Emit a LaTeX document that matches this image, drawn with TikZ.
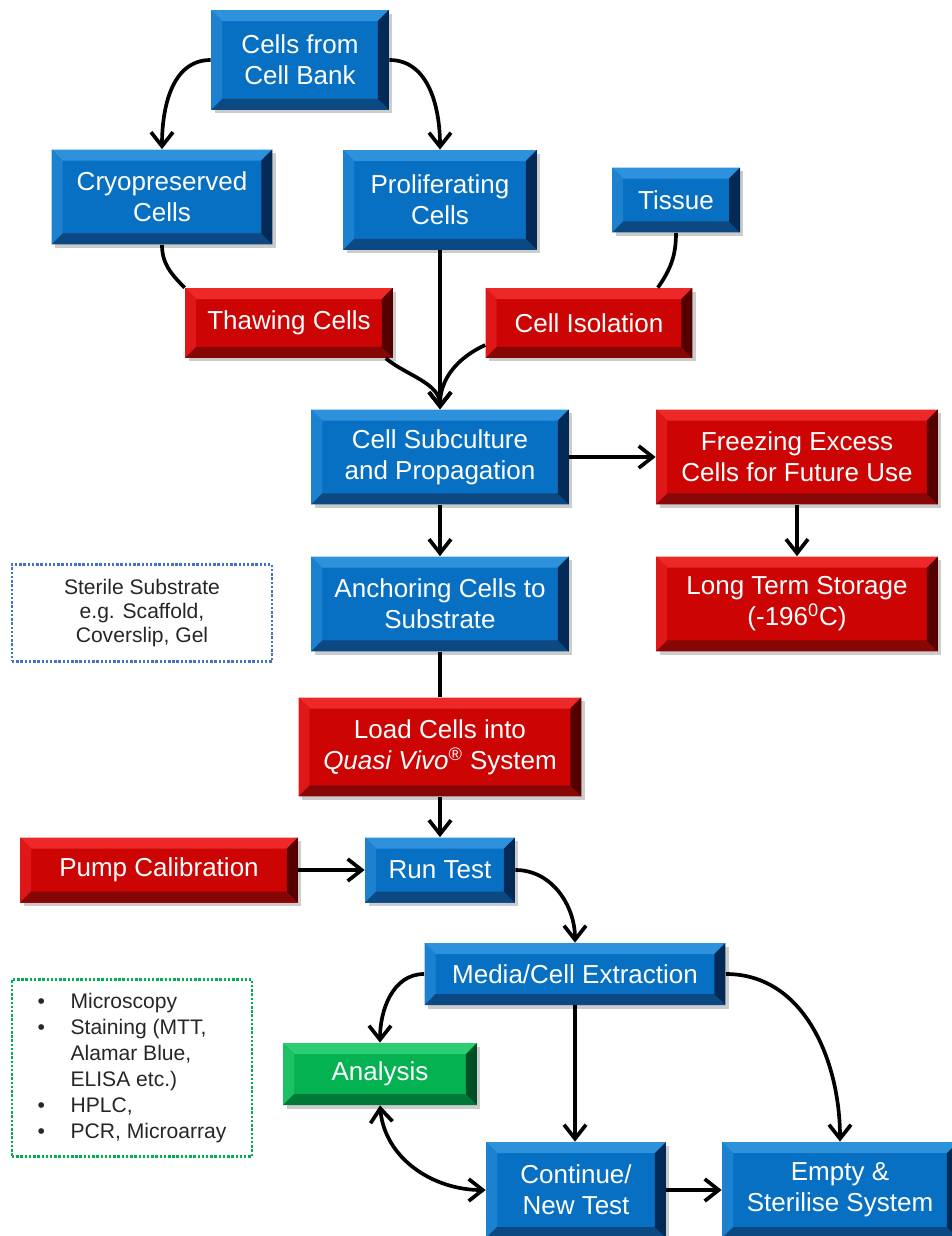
\documentclass[tikz,border=0pt]{standalone}
\usepackage{fontspec}
\setmainfont{Liberation Sans}
\usepackage{xcolor}
\usetikzlibrary{
    arrows.meta,
    positioning,
    shadows
}

\definecolor{boxblue}{RGB}{8,112,194}
\definecolor{bluelight}{RGB}{45,145,220}
\definecolor{bluedark}{RGB}{12,72,130}
\definecolor{bluedeep}{RGB}{2,42,85}
\definecolor{boxred}{RGB}{204,4,4}
\definecolor{redlight}{RGB}{236,40,40}
\definecolor{reddark}{RGB}{135,6,6}
\definecolor{reddeep}{RGB}{85,0,0}
\definecolor{boxgreen}{RGB}{4,178,82}
\definecolor{greenlight}{RGB}{45,205,115}
\definecolor{greendark}{RGB}{0,120,55}
\definecolor{greendeep}{RGB}{0,78,35}
\definecolor{noteblue}{RGB}{68,114,196}
\definecolor{notegreen}{RGB}{0,176,80}

\newcommand{\bev}{0.22cm}
\newcommand{\lstbullet}{\makebox[0.66cm][l]{\textbullet}}
\newcommand{\lstindent}{\hspace*{0.66cm}}

\tikzset{
    box/.style={
        rectangle,
        inner sep=2pt,
        text=white,
        align=center,
        font=\fontsize{14.8}{17.6}\selectfont,
        drop shadow={shadow xshift=0.7mm, shadow yshift=-0.7mm, opacity=0.4}
    },
    bevel/.style n args={4}{
        fill=#1,
        path picture={
            \coordinate (pa) at (path picture bounding box.north west);
            \coordinate (pb) at (path picture bounding box.north east);
            \coordinate (pc) at (path picture bounding box.south east);
            \coordinate (pd) at (path picture bounding box.south west);
            \fill[#2] (pa) -- (pb) -- ([shift={(-\bev,-\bev)}]pb) -- ([shift={(\bev,-\bev)}]pa) -- cycle;
            \fill[#2!55!#1] (pa) -- (pd) -- ([shift={(\bev,\bev)}]pd) -- ([shift={(\bev,-\bev)}]pa) -- cycle;
            \fill[#3] (pd) -- (pc) -- ([shift={(-\bev,\bev)}]pc) -- ([shift={(\bev,\bev)}]pd) -- cycle;
            \fill[#4] (pb) -- (pc) -- ([shift={(-\bev,\bev)}]pc) -- ([shift={(-\bev,-\bev)}]pb) -- cycle;
        }
    },
    bluebox/.style={box, bevel={boxblue}{bluelight}{bluedark}{bluedeep}},
    redbox/.style={box, bevel={boxred}{redlight}{reddark}{reddeep}},
    greenbox/.style={box, bevel={boxgreen}{greenlight}{greendark}{greendeep}},
    notebox/.style={
        draw,
        densely dotted,
        line width=1.4pt,
        inner sep=0pt,
        text=black!85,
        font=\fontsize{12}{13.9}\selectfont
    },
    conn/.style={line width=2.1pt},
    flow/.style={conn, -{Straight Barb[length=2.8mm, width=4.4mm]}},
    twoway/.style={conn, {Straight Barb[length=2.8mm, width=4.4mm]}-{Straight Barb[length=2.8mm, width=4.4mm]}}
}

\begin{document}
\begin{tikzpicture}[x=0.02cm, y=0.02cm]
\useasboundingbox (0,0) rectangle (952,-1236);

% sources
\node[bluebox, minimum width=3.56cm, minimum height=2cm] (cellbank) at (300,-60) {Cells from\\Cell Bank};
\node[bluebox, minimum width=4.42cm, minimum height=1.9cm] (cryo) at (162,-197) {Cryopreserved\\Cells};
\node[bluebox, minimum width=3.88cm, minimum height=2cm] (prolif) at (440,-200) {Proliferating\\Cells};
\node[bluebox, minimum width=2.56cm, minimum height=1.3cm] (tissue) at (676,-200) {Tissue};
\node[redbox, minimum width=4.16cm, minimum height=1.4cm] (thawing) at (289,-323) {Thawing Cells};
\node[redbox, minimum width=4.14cm, minimum height=1.4cm] (isolation) at (589,-323) {Cell Isolation};

% culture
\node[bluebox, minimum width=5.16cm, minimum height=1.9cm] (subculture) at (440,-457) {Cell Subculture\\and Propagation};
\node[redbox, minimum width=5.64cm, minimum height=1.9cm] (freezing) at (797,-457) {Freezing Excess\\Cells for Future Use};
\node[bluebox, minimum width=5.16cm, minimum height=1.9cm] (anchoring) at (440,-604) {Anchoring Cells to\\Substrate};
\node[redbox, minimum width=5.64cm, minimum height=1.9cm] (storage) at (797,-604) {Long Term Storage\\(-196\textsuperscript{0}C)};
\node[notebox, draw=noteblue, align=center, minimum width=5.2cm, minimum height=1.94cm] (substrate) at (142,-613) {Sterile Substrate\\e.g. Scaffold,\\Coverslip, Gel};
\node[redbox, minimum width=5.66cm, minimum height=1.98cm] (loadcells) at (440,-747) {Load Cells into\\\textit{Quasi Vivo}\textsuperscript{\textregistered} System};

% testing
\node[redbox, minimum width=5.56cm, minimum height=1.3cm] (pump) at (159,-870) {Pump Calibration};
\node[bluebox, minimum width=3cm, minimum height=1.3cm] (runtest) at (440,-870) {Run Test};
\node[bluebox, minimum width=6.02cm, minimum height=1.24cm] (extraction) at (575,-974) {Media/Cell Extraction};
\node[greenbox, minimum width=3.88cm, minimum height=1.24cm] (analysis) at (380,-1074) {Analysis};
\node[notebox, draw=notegreen, align=left, font=\fontsize{12}{14.8}\selectfont, minimum width=4.8cm, minimum height=3.54cm] (methods) at (132,-1068)
    {\lstbullet Microscopy\\\lstbullet Staining (MTT,\\\lstindent Alamar Blue,\\\lstindent ELISA etc.)\\\lstbullet HPLC,\\\lstbullet PCR, Microarray};
\node[bluebox, minimum width=3.6cm, minimum height=1.92cm] (continue) at (576,-1190) {Continue/\\New Test};
\node[bluebox, minimum width=4.72cm, minimum height=1.92cm] (empty) at (840,-1190) {Empty \&\\Sterilise System};

% connectors
\draw[flow] (cellbank.west) to[out=180, in=90] (cryo.north);
\draw[flow] (cellbank.east) to[out=0, in=90] (prolif.north);
\draw[conn] (cryo.south) to[out=-90, in=135] (thawing.north west);
\draw[conn] (tissue.south) to[out=-90, in=55] ([xshift=-0.7cm]isolation.north east);
\draw[flow] (prolif.south) -- (subculture.north);
\draw[flow] ([xshift=-0.15cm]thawing.south east) to[out=-40, in=90, looseness=0.9] (subculture.north);
\draw[flow] ([yshift=-0.44cm]isolation.west) to[out=205, in=90] (subculture.north);
\draw[flow] (subculture.east) -- (freezing.west);
\draw[flow] (subculture.south) -- (anchoring.north);
\draw[flow] (freezing.south) -- (storage.north);
\draw[conn] (anchoring.south) -- (loadcells.north);
\draw[flow] (loadcells.south) -- (runtest.north);
\draw[flow] (pump.east) -- (runtest.west);
\draw[flow] (runtest.east) to[out=0, in=90] (extraction.north);
\draw[flow] (extraction.west) to[out=180, in=90] (analysis.north);
\draw[flow] (extraction.south) -- (extraction.south |- continue.north);
\draw[flow] (extraction.east) to[out=0, in=90] (empty.north);
\draw[twoway] (analysis.south) to[out=-85, in=180] (continue.west);
\draw[flow] (continue.east) -- (empty.west);

\end{tikzpicture}
\end{document}
